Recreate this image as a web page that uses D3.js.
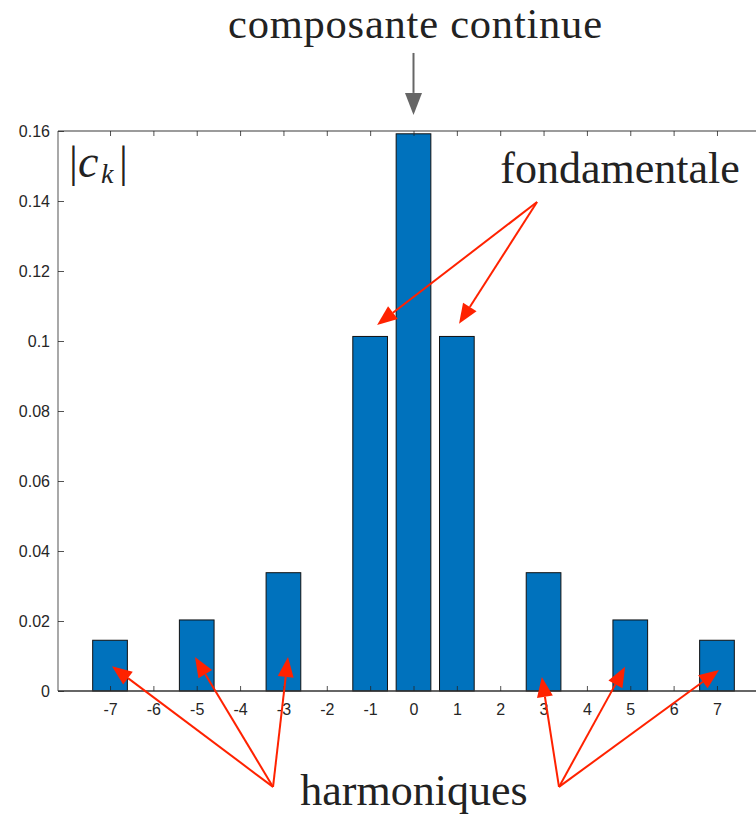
<!DOCTYPE html>
<html>
<head>
<meta charset="utf-8">
<script src="https://cdn.jsdelivr.net/npm/d3@7"></script>
<style>
  html, body { margin: 0; padding: 0; background: #fff; }
  svg { display: block; }
</style>
</head>
<body>
<svg id="chart" width="756" height="815"></svg>
<script>
// ---- data ----
const harmonics = [-7, -6, -5, -4, -3, -2, -1, 0, 1, 2, 3, 4, 5, 6, 7];
const magnitudes = [0.0145, 0, 0.0203, 0, 0.0338, 0, 0.1013, 0.1592, 0.1013, 0, 0.0338, 0, 0.0203, 0, 0.0145];
const yTickValues = [0, 0.02, 0.04, 0.06, 0.08, 0.1, 0.12, 0.14, 0.16];
const yTickLabels = ["0", "0.02", "0.04", "0.06", "0.08", "0.1", "0.12", "0.14", "0.16"];
const xTickLabels = ["-7", "-6", "-5", "-4", "-3", "-2", "-1", "0", "1", "2", "3", "4", "5", "6", "7"];

// annotation labels and arrow endpoints (data coordinates)
const titleTop = "composante continue";
const labelFund = "fondamentale";
const labelHarm = "harmoniques";
const dcArrow = { from: [0, 0.1823], to: [0, 0.1646] };
const fundArrows = [
  { from: [2.85, 0.1397], to: [-0.84, 0.1046] },
  { from: [2.85, 0.1397], to: [1.05, 0.1049] }
];
const harmArrows = [
  { from: [-3.24, -0.0274], to: [-6.955, 0.0071] },
  { from: [-3.24, -0.0274], to: [-5.04, 0.0097] },
  { from: [-3.24, -0.0274], to: [-2.895, 0.0097] },
  { from: [3.356, -0.0274], to: [2.96, 0.0040] },
  { from: [3.356, -0.0274], to: [4.88, 0.0069] },
  { from: [3.356, -0.0274], to: [7.047, 0.0060] }
];

// ---- layout ----
const plotLeft = 58, plotTop = 131, plotBottom = 691, plotRight = 769;
const svg = d3.select("#chart");
svg.append("rect").attr("width", 756).attr("height", 815).attr("fill", "#fff");

const x = d3.scaleLinear().domain([-8.2, 8.2]).range([plotLeft, plotRight]);
const y = d3.scaleLinear().domain([0, 0.16]).range([plotBottom, plotTop]);
const barW = (x(1) - x(0)) * 0.8;

const axisFont = "'Liberation Sans', Helvetica, Arial, sans-serif";
const serif = "'Liberation Serif', 'Times New Roman', serif";

// bars
svg.append("g").selectAll("rect")
  .data(harmonics.map((k, i) => ({ k, v: magnitudes[i] })).filter(d => d.v > 0))
  .join("rect")
  .attr("x", d => x(d.k) - barW / 2)
  .attr("y", d => y(d.v))
  .attr("width", barW)
  .attr("height", d => y(0) - y(d.v))
  .attr("fill", "#0072BD")
  .attr("stroke", "#111")
  .attr("stroke-width", 1);

// box lines (left, top)
svg.append("line").attr("x1", plotLeft).attr("x2", plotLeft).attr("y1", plotTop).attr("y2", plotBottom)
  .attr("stroke", "#7a7a7a").attr("stroke-width", 1.3);
svg.append("line").attr("x1", plotLeft).attr("x2", 756).attr("y1", plotTop).attr("y2", plotTop)
  .attr("stroke", "#7a7a7a").attr("stroke-width", 1.3);
// baseline
svg.append("line").attr("x1", plotLeft).attr("x2", 756).attr("y1", y(0)).attr("y2", y(0))
  .attr("stroke", "#333").attr("stroke-width", 1.5);

// left axis
const gy = svg.append("g").attr("transform", `translate(${plotLeft},0)`)
  .call(d3.axisLeft(y).tickValues(yTickValues).tickSize(-6).tickPadding(8)
    .tickFormat((d, i) => yTickLabels[i]));
gy.select(".domain").remove();
gy.selectAll(".tick line").attr("stroke", "#262626").attr("stroke-width", 0.8);
gy.selectAll("text").attr("font-family", axisFont).attr("font-size", 16).attr("fill", "#262626");

// bottom axis
const gx = svg.append("g").attr("transform", `translate(0,${plotBottom})`)
  .call(d3.axisBottom(x).tickValues(harmonics).tickSize(-5).tickPadding(13)
    .tickFormat((d, i) => xTickLabels[i]));
gx.select(".domain").remove();
gx.selectAll(".tick line").attr("stroke", "#262626").attr("stroke-width", 0.8);
gx.selectAll("text").attr("font-family", axisFont).attr("font-size", 16).attr("fill", "#262626");

// top axis (ticks only)
const gt = svg.append("g").attr("transform", `translate(0,${plotTop})`)
  .call(d3.axisTop(x).tickValues(harmonics).tickSize(-5).tickFormat(""));
gt.select(".domain").remove();
gt.selectAll(".tick line").attr("stroke", "#262626").attr("stroke-width", 0.8);

// |c_k| label
svg.append("text").attr("x", 69).attr("y", 177).attr("font-family", serif)
  .attr("font-size", 44).attr("fill", "#222").text("|");
const lbl = svg.append("text").attr("y", 177).attr("font-family", serif).attr("fill", "#222");
lbl.append("tspan").attr("x", 78).attr("font-size", 46).attr("font-style", "italic").text("c");
lbl.append("tspan").attr("x", 101).attr("dy", 6).attr("font-size", 28).attr("font-style", "italic").text("k");
svg.append("text").attr("x", 119).attr("y", 177).attr("font-family", serif)
  .attr("font-size", 44).attr("fill", "#222").text("|");

// arrows
function arrow(a, color, headLen, headW, sw) {
  const x1 = x(a.from[0]), y1 = y(a.from[1]), x2 = x(a.to[0]), y2 = y(a.to[1]);
  const ang = Math.atan2(y2 - y1, x2 - x1);
  const bx = x2 - headLen * Math.cos(ang), by = y2 - headLen * Math.sin(ang);
  const px = -Math.sin(ang) * headW / 2, py = Math.cos(ang) * headW / 2;
  svg.append("line").attr("x1", x1).attr("y1", y1).attr("x2", bx).attr("y2", by)
    .attr("stroke", color).attr("stroke-width", sw);
  svg.append("polygon")
    .attr("points", [[x2, y2], [bx + px, by + py], [bx - px, by - py]].map(p => p.join(",")).join(" "))
    .attr("fill", color);
}
arrow(dcArrow, "#666", 22, 17, 2);
fundArrows.forEach(a => arrow(a, "#ff2200", 20, 16, 2));
harmArrows.forEach(a => arrow(a, "#ff2200", 20, 16, 2));

// annotation texts
svg.append("text").attr("x", 415).attr("y", 38).attr("text-anchor", "middle")
  .attr("font-family", serif).attr("font-size", 42.5).attr("fill", "#222")
  .attr("textLength", 374).attr("lengthAdjust", "spacing").text(titleTop);
svg.append("text").attr("x", 620).attr("y", 183).attr("text-anchor", "middle")
  .attr("font-family", serif).attr("font-size", 44).attr("fill", "#222").text(labelFund);
svg.append("text").attr("x", 414).attr("y", 805).attr("text-anchor", "middle")
  .attr("font-family", serif).attr("font-size", 44).attr("fill", "#222").text(labelHarm);
</script>
</body>
</html>
